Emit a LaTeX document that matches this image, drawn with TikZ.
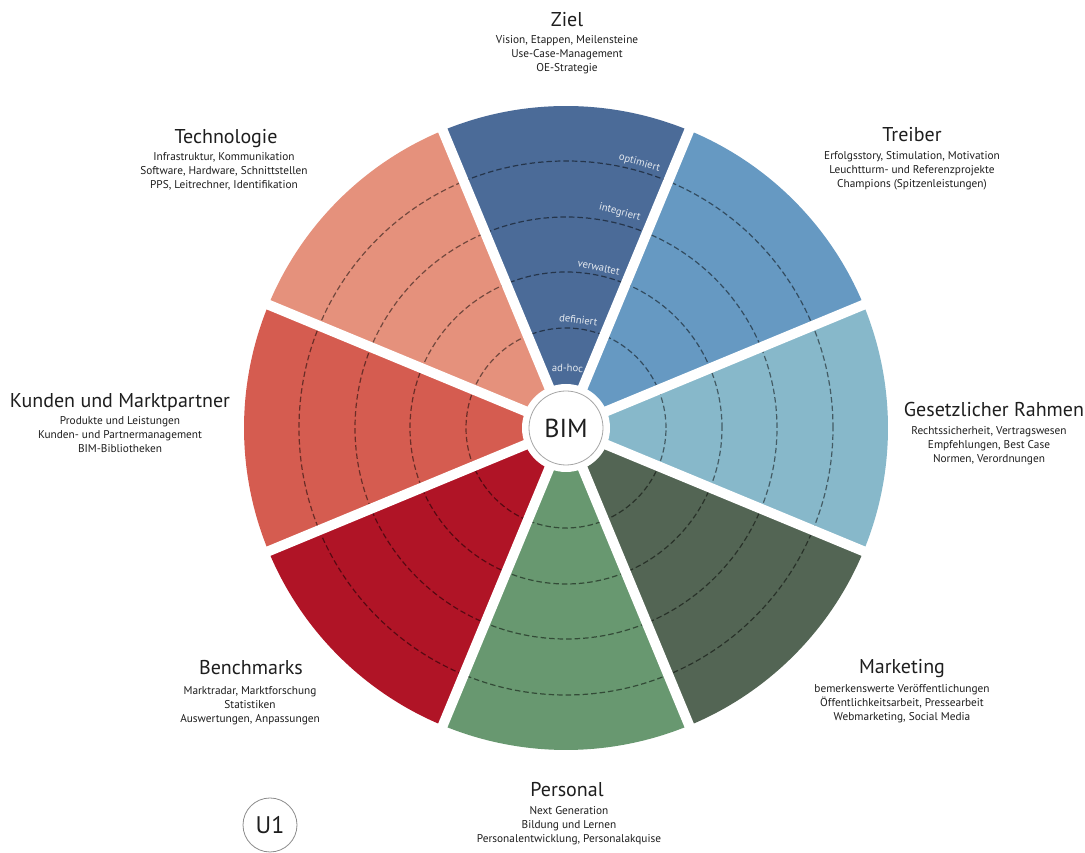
\documentclass[tikz,border=0pt]{standalone}
\usepackage{fontspec}
\setmainfont{PT Sans}
\definecolor{cZiel}{RGB}{75,107,152}
\definecolor{cTreiber}{RGB}{102,153,194}
\definecolor{cGesetz}{RGB}{135,184,202}
\definecolor{cMarketing}{RGB}{83,101,84}
\definecolor{cPersonal}{RGB}{104,152,112}
\definecolor{cBench}{RGB}{176,20,38}
\definecolor{cKunden}{RGB}{213,92,80}
\definecolor{cTech}{RGB}{229,145,124}
\definecolor{cText}{RGB}{30,30,30}
\begin{document}
\begin{tikzpicture}[x=1pt,y=1pt,
  title/.style={font=\fontsize{20}{23}\selectfont, text=cText, anchor=base, inner sep=0pt},
  desc/.style={font=\fontsize{11.3}{13.8}\selectfont, text=cText, align=center, anchor=base, inner sep=0pt},
  ring/.style={font=\fontsize{10.6}{12.5}\selectfont, text=white!85!cZiel, inner sep=0pt},
  dashring/.style={draw=black, draw opacity=0.5, dash pattern=on 5.5pt off 3pt, line width=1.2pt},
  gap/.style={draw=white, line width=10pt}]
\useasboundingbox (0,0) rectangle (1085,853);
\fill[white] (0,0) rectangle (1085,853);
\coordinate (c) at (566,425);
% sectors
\foreach \a/\col in {90/cZiel,45/cTreiber,0/cGesetz,-45/cMarketing,-90/cPersonal,-135/cBench,180/cKunden,135/cTech}{
  \fill[\col] (c) -- ([shift={({\a-22.5}:322)}]c) arc[start angle=\a-22.5, end angle=\a+22.5, radius=322] -- cycle;
}
% maturity rings
\foreach \r in {100,156,211,267}{
  \draw[dashring] (c) circle[radius=\r];
}
% gaps between sectors
\foreach \a in {22.5,67.5,...,337.5}{
  \draw[gap] (c) -- ([shift={(\a:335)}]c);
}
\fill[white] (c) circle[radius=44];
\node[circle, draw=black!35, line width=0.8pt, fill=white, minimum size=74pt, inner sep=0pt, font=\fontsize{26}{28}\selectfont, text=cText] (bim) at (c) {BIM};
% ring labels
\node[ring, rotate=-2]  (adhoc)      at ([shift={(88.5:60)}]c)  {ad-hoc};
\node[ring, rotate=-7]  (definiert)  at ([shift={(83.5:109)}]c) {definiert};
\node[ring, rotate=-12] (verwaltet)  at ([shift={(78.5:164)}]c) {verwaltet};
\node[ring, rotate=-14.5] (integriert) at ([shift={(76:222)}]c) {integriert};
\node[ring, rotate=-16] (optimiert)  at ([shift={(74.5:275)}]c) {optimiert};
% titles and descriptions (desc anchored at baseline of last line)
\node[title] (tZiel) at (567,826) {Ziel};
\node[desc] (dZiel) at (567,781.4) {Vision, Etappen, Meilensteine\\Use-Case-Management\\OE-Strategie};
\node[title] (tTech) at (226,709) {Technologie};
\node[desc] (dTech) at (224,664.4) {Infrastruktur, Kommunikation\\Software, Hardware, Schnittstellen\\PPS, Leitrechner, Identifikation};
\node[title] (tTreiber) at (912,711) {Treiber};
\node[desc] (dTreiber) at (912,665.4) {Erfolgsstory, Stimulation, Motivation\\Leuchtturm- und Referenzprojekte\\Champions (Spitzenleistungen)};
\node[title] (tGesetz) at (994,436) {Gesetzlicher Rahmen};
\node[desc] (dGesetz) at (989,390.4) {Rechtssicherheit, Vertragswesen\\Empfehlungen, Best Case\\Normen, Verordnungen};
\node[title] (tKunden) at (120,445) {Kunden und Marktpartner};
\node[desc] (dKunden) at (120,400.4) {Produkte und Leistungen\\Kunden- und Partnermanagement\\BIM-Bibliotheken};
\node[title] (tBench) at (251,178) {Benchmarks};
\node[desc] (dBench) at (250,130.4) {Marktradar, Marktforschung\\Statistiken\\Auswertungen, Anpassungen};
\node[title] (tMarketing) at (902,179) {Marketing};
\node[desc] (dMarketing) at (902,132.4) {bemerkenswerte Veröffentlichungen\\Öffentlichkeitsarbeit, Pressearbeit\\Webmarketing, Social Media};
\node[title] (tPersonal) at (567,56) {Personal};
\node[desc] (dPersonal) at (569,10.4) {Next Generation\\Bildung und Lernen\\Personalentwicklung, Personalakquise};
% page mark
\node[circle, draw=black!45, line width=0.8pt, minimum size=54pt, inner sep=0pt, font=\fontsize{24}{26}\selectfont, text=cText] (u1) at (270,28) {U1};
\end{tikzpicture}
\end{document}
